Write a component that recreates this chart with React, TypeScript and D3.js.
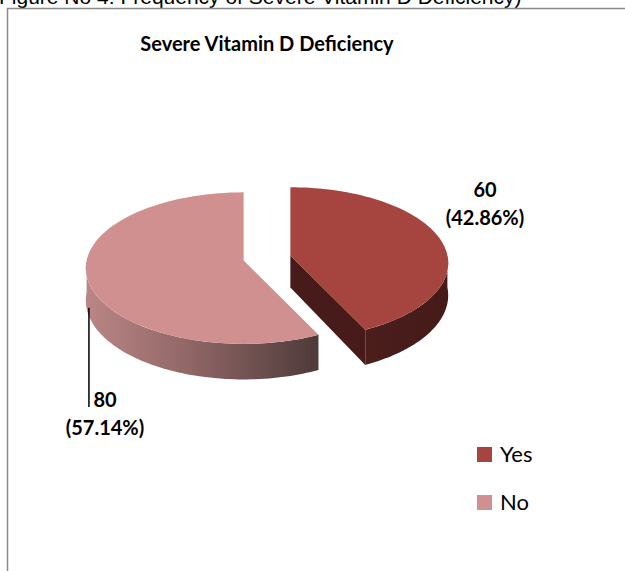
import React from 'react';
import * as d3 from 'd3';

const categories = ['Yes', 'No'];
const values = [60, 80];
const percentLabels = ['(42.86%)', '(57.14%)'];
const topColors = ['#A6443F', '#D09090'];
const chartTitle = 'Severe Vitamin D Deficiency';
const figureCaption = 'Figure No 4: Frequency of Severe Vitamin D Deficiency)';

const W = 625;
const H = 571;
const CX = 267;
const CY = 258;
const R = 157;
const RY = 75;
const P = 0.1;
const DEPTH = 32;
const EXPLODE = 24;

type Pt = [number, number];

function proj(c: Pt, th: number, h: number, r = 1): Pt {
  const X = Math.sin(th) * r;
  const Z = -Math.cos(th) * r;
  const s = 1 / (1 - P * Z);
  return [c[0] + R * X * s, c[1] + RY * Z * s + DEPTH * s * h];
}

function samples(a: number, b: number, n = 80): number[] {
  return d3.range(n + 1).map((i) => a + ((b - a) * i) / n);
}

const line = d3.line<Pt>().x((d) => d[0]).y((d) => d[1]);

export default function App() {
  const pie = d3
    .pie<number>()
    .sort(null)
    .startAngle(0)
    .endAngle(2 * Math.PI)
    .value((d) => d);
  const arcs = pie(values);

  const slices = arcs.map((a, i) => {
    const mid = (a.startAngle + a.endAngle) / 2;
    const c: Pt = [
      CX + EXPLODE * Math.sin(mid),
      CY - EXPLODE * Math.cos(mid) * (RY / R),
    ];
    const top = line([c, ...samples(a.startAngle, a.endAngle).map((t) => proj(c, t, 0))]) + 'Z';
    const wa = Math.max(a.startAngle, Math.PI / 2);
    const wb = Math.min(a.endAngle, (3 * Math.PI) / 2);
    let wall: string | null = null;
    let wallX: [number, number] = [0, 0];
    if (wb > wa) {
      const ts = samples(wa, wb);
      const upper = ts.map((t) => proj(c, t, 0));
      const lower = ts.slice().reverse().map((t) => proj(c, t, 1));
      wall = line([...upper, ...lower]) + 'Z';
      const xs = [...upper, ...lower].map((p) => p[0]);
      wallX = [d3.min(xs)!, d3.max(xs)!];
    }
    const faces: string[] = [];
    if (Math.sin(a.endAngle) > 0.01) {
      const t = a.endAngle;
      faces.push(line([proj(c, t, 0, 0), proj(c, t, 0), proj(c, t, 1), proj(c, t, 1, 0)]) + 'Z');
    }
    if (-Math.sin(a.startAngle) > 0.01) {
      const t = a.startAngle;
      faces.push(line([proj(c, t, 0, 0), proj(c, t, 0), proj(c, t, 1), proj(c, t, 1, 0)]) + 'Z');
    }
    return { a, i, c, mid, top, wall, wallX, faces };
  });

  const no = slices[1];
  const leaderStart = proj(no.c, (253 * Math.PI) / 180, 0.75);
  const leaderX = leaderStart[0];
  const noLabelY = 407;

  const wallGradients = [
    [
      { o: 0, c: '#4B1E1C' },
      { o: 1, c: '#451A18' },
    ],
    [
      { o: 0, c: '#BB8686' },
      { o: 0.45, c: '#906666' },
      { o: 1, c: '#4E3A3A' },
    ],
  ];
  const faceColors = ['#461B19', '#4E3A3A'];

  const legendX = 477;
  const legendY0 = 447;
  const legendStep = 48;

  return (
    <svg
      width={W}
      height={H}
      style={{ position: 'absolute', left: 0, top: 0, background: '#fff' }}
      xmlns="http://www.w3.org/2000/svg"
    >
      <defs>
        {slices.map((s) => (
          <linearGradient
            key={s.i}
            id={`wallg${s.i}`}
            gradientUnits="userSpaceOnUse"
            x1={s.wallX[0]}
            x2={s.wallX[1]}
            y1={0}
            y2={0}
          >
            {wallGradients[s.i].map((g, k) => (
              <stop key={k} offset={g.o} stopColor={g.c} />
            ))}
          </linearGradient>
        ))}
      </defs>
      <rect x={0} y={0} width={W} height={H} fill="#fff" />
      <text
        x={-1}
        y={4}
        fontFamily="'Liberation Sans', Arial, sans-serif"
        fontSize={21}
        fill="#000"
      >
        {figureCaption}
      </text>
      <path d={`M7.5,${H}V8.5H${W}`} fill="none" stroke="#8A8A8A" strokeWidth={1.5} />
      <text
        x={267}
        y={51}
        textAnchor="middle"
        fontFamily="Lato, 'Open Sans', sans-serif"
        fontWeight="bold"
        fontSize={20}
        fill="#000"
      >
        {chartTitle}
      </text>

      {slices.map((s) => (
        <g key={s.i}>
          {s.faces.map((f, k) => (
            <path key={k} d={f} fill={faceColors[s.i]} />
          ))}
          {s.wall && <path d={s.wall} fill={`url(#wallg${s.i})`} />}
          <path d={s.top} fill={topColors[s.i]} />
        </g>
      ))}

      <line
        x1={leaderX}
        y1={leaderStart[1]}
        x2={leaderX}
        y2={noLabelY}
        stroke="#000"
        strokeWidth={1.5}
      />
      <g fontFamily="Lato, 'Open Sans', sans-serif" fontWeight="bold" fontSize={20} fill="#000" textAnchor="middle">
        <text x={485} y={197}>{values[0]}</text>
        <text x={485} y={225}>{percentLabels[0]}</text>
        <text x={105} y={noLabelY}>{values[1]}</text>
        <text x={105} y={noLabelY + 28}>{percentLabels[1]}</text>
      </g>

      {categories.map((cat, i) => (
        <g key={cat}>
          <rect x={legendX} y={legendY0 + i * legendStep} width={15} height={15} fill={topColors[i]} />
          <text
            x={legendX + 23}
            y={legendY0 + i * legendStep + 15}
            fontFamily="Lato, 'Open Sans', sans-serif"
            fontSize={22}
            fill="#000"
          >
            {cat}
          </text>
        </g>
      ))}
    </svg>
  );
}
